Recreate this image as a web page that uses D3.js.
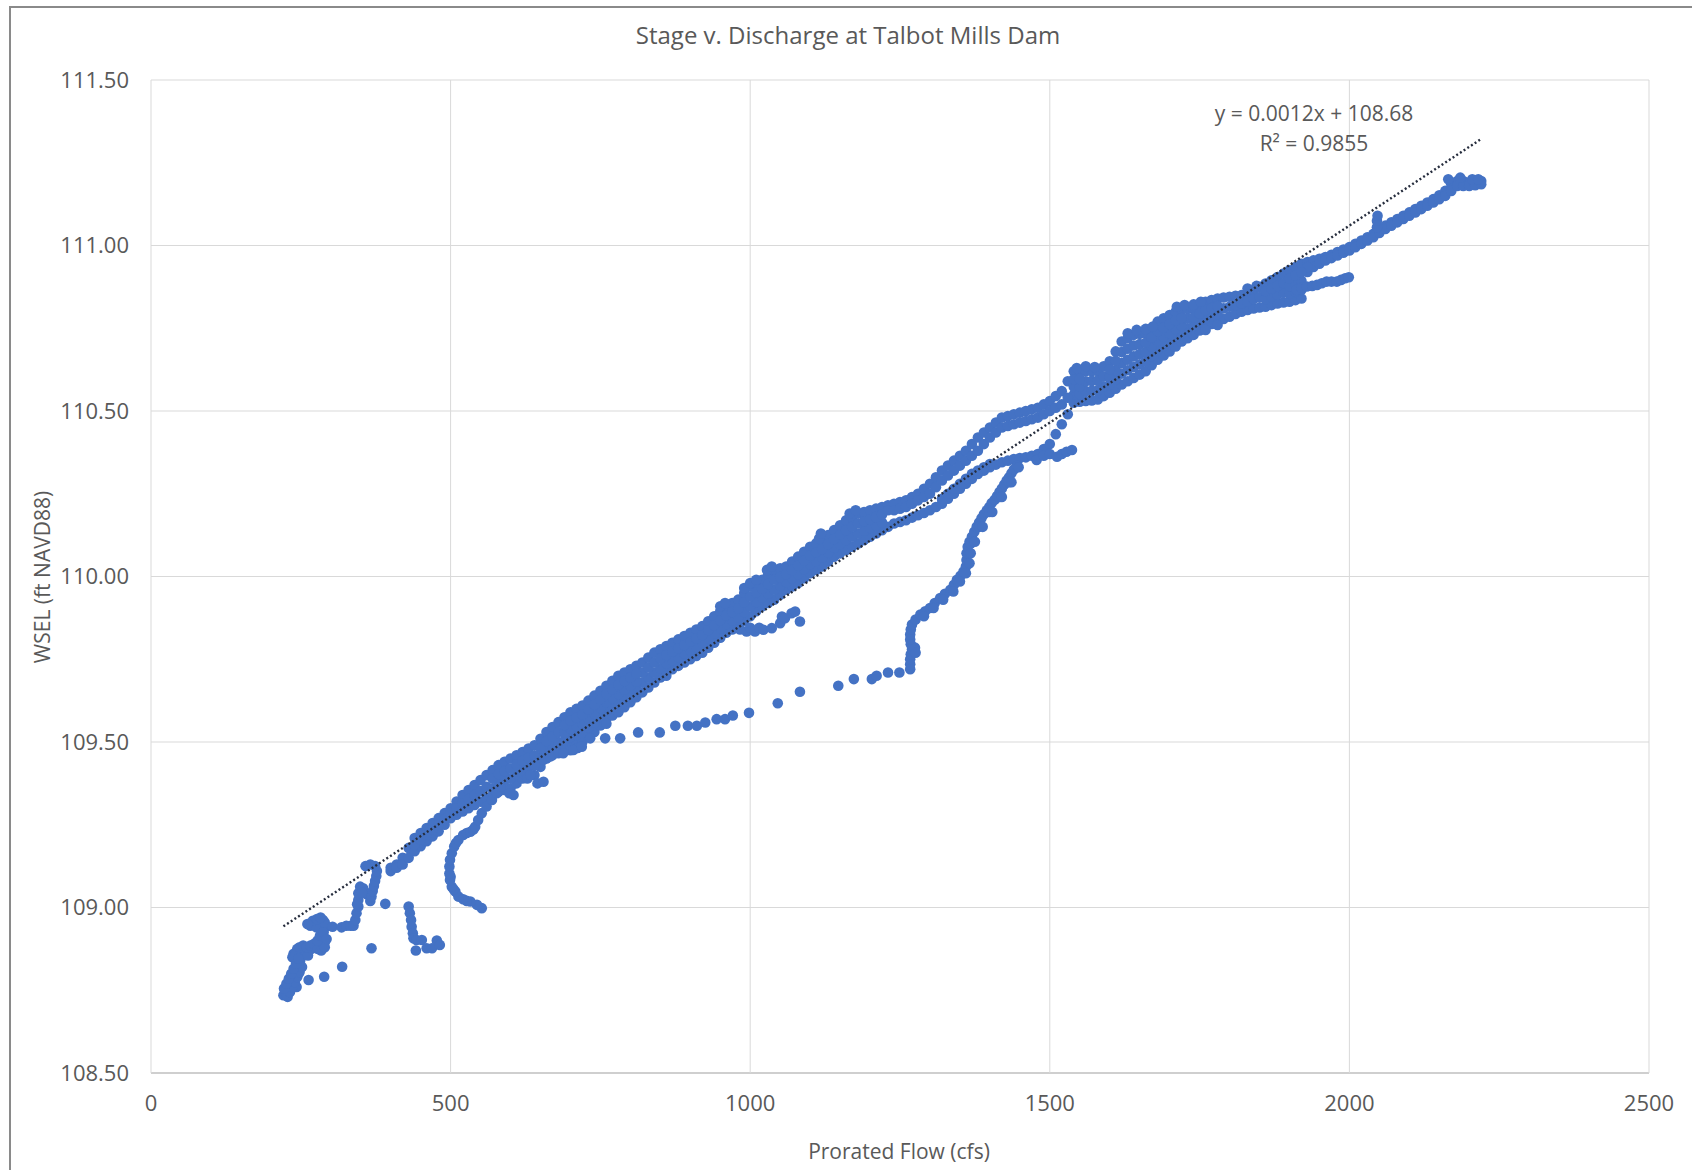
<!DOCTYPE html>
<html>
<head>
<meta charset="utf-8">
<script src="https://cdn.jsdelivr.net/npm/d3@7"></script>
<style>
  body { margin: 0; background: #fff; }
  text { font-family: "Open Sans", sans-serif; fill: #595959; }
</style>
</head>
<body>
<svg id="canvas" width="1692" height="1170"></svg>
<script>
// tick values
let xTicks = [0, 500, 1000, 1500, 2000, 2500]
let yTicks = [108.5, 109.0, 109.5, 110.0, 110.5, 111.0, 111.5]

// linear trendline (Excel)
let trendSlope = 0.00119
let trendIntercept = 108.68
let trendRange = [221, 2218]

// main band, top row of points (flow cfs, WSEL ft)
let bandHigh = [
  [400,109.12],[410,109.13],[420,109.15],[430,109.18],[440,109.21],[450,109.225],[460,109.24],[470,109.255],
  [480,109.27],[490,109.285],[500,109.30],[510,109.32],[520,109.34],[530,109.355],[540,109.37],[550,109.385],
  [560,109.40],[570,109.415],[580,109.43],[590,109.44],[600,109.45],[610,109.46],[620,109.47],[630,109.48],
  [640,109.49],[650,109.51],[660,109.53],[670,109.545],[680,109.56],[690,109.575],[700,109.59],[710,109.60],
  [720,109.61],[730,109.625],[740,109.64],[750,109.655],[760,109.67],[770,109.685],[780,109.70],[790,109.71],
  [800,109.72],[810,109.73],[820,109.74],[830,109.755],[840,109.77],[850,109.78],[860,109.79],[870,109.80],
  [880,109.81],[890,109.82],[900,109.83],[910,109.84],[920,109.85],[930,109.865],[940,109.88],[950,109.895],
  [960,109.91],[970,109.92],[980,109.93],[990,109.95],[1000,109.97],[1010,109.98],[1020,109.99],[1030,110.005],
  [1040,110.02],[1050,110.025],[1060,110.03],[1070,110.045],[1080,110.06],[1090,110.075],[1100,110.09],[1110,110.10],
  [1120,110.11],[1130,110.125],[1140,110.14],[1150,110.155],[1160,110.17],[1170,110.18],[1180,110.19],[1190,110.195],
  [1200,110.20],[1210,110.205],[1220,110.21],[1230,110.215],[1240,110.22],[1250,110.225],[1260,110.23],[1270,110.24],
  [1280,110.25],[1290,110.265],[1300,110.28],[1310,110.30],[1320,110.32],[1330,110.335],[1340,110.35],[1350,110.365],
  [1360,110.38],[1370,110.40],[1380,110.42],[1390,110.435],[1400,110.45],[1410,110.465],[1420,110.48],[1430,110.485],
  [1440,110.49],[1450,110.495],[1460,110.50],[1470,110.505],[1480,110.51],[1490,110.52],[1500,110.53],[1510,110.545],
  [1520,110.56],[1530,110.59],[1540,110.62],[1550,110.62],[1560,110.62],[1570,110.62],[1580,110.62],[1590,110.635],
  [1600,110.65],[1610,110.68],[1620,110.71],[1630,110.72],[1640,110.73],[1650,110.733],[1660,110.735],[1670,110.75],
  [1680,110.77],[1690,110.78],[1700,110.79],[1710,110.80],[1720,110.805],[1730,110.808],[1740,110.81],[1750,110.82],
  [1760,110.83],[1770,110.835],[1780,110.84],[1790,110.843],[1800,110.845],[1810,110.848],[1820,110.85],[1830,110.858],
  [1840,110.865],[1850,110.875],[1860,110.885],[1870,110.895],[1880,110.905],[1890,110.915],[1900,110.925],[1910,110.935],
  [1920,110.945],[1930,110.95],[1940,110.955],[1950,110.96],[1960,110.965],[1970,110.972],[1980,110.98],[1990,110.988],
  [2000,110.995],[2010,111.005],[2020,111.015],[2030,111.025],[2040,111.035],[2050,111.048],[2060,111.06],[2070,111.07],
  [2080,111.08],[2090,111.09],[2100,111.10],[2110,111.11],[2120,111.12],[2130,111.13],[2140,111.14],[2150,111.152],
  [2160,111.165],[2170,111.185],[2180,111.195],[2190,111.195],[2200,111.19],[2210,111.19],[2220,111.195]
]

// main band, bottom row (lower loop branch between 1230 and 1530)
let bandLow = [
  [400,109.11],[410,109.12],[420,109.13],[430,109.15],[440,109.17],[450,109.185],[460,109.20],[470,109.215],
  [480,109.23],[490,109.25],[500,109.27],[510,109.28],[520,109.29],[530,109.30],[540,109.31],[550,109.32],
  [560,109.33],[570,109.34],[580,109.35],[590,109.355],[600,109.36],[610,109.375],[620,109.39],[630,109.395],
  [640,109.40],[650,109.425],[660,109.45],[670,109.46],[680,109.47],[690,109.48],[700,109.49],[710,109.495],
  [720,109.50],[730,109.515],[740,109.53],[750,109.55],[760,109.57],[770,109.58],[780,109.59],[790,109.605],
  [800,109.62],[810,109.635],[820,109.65],[830,109.665],[840,109.68],[850,109.695],[860,109.71],[870,109.72],
  [880,109.73],[890,109.74],[900,109.75],[910,109.76],[920,109.77],[930,109.785],[940,109.80],[950,109.815],
  [960,109.83],[970,109.84],[980,109.85],[990,109.865],[1000,109.88],[1010,109.895],[1020,109.91],[1030,109.92],
  [1040,109.93],[1050,109.945],[1060,109.96],[1070,109.97],[1080,109.98],[1090,109.995],[1100,110.01],[1110,110.02],
  [1120,110.03],[1130,110.045],[1140,110.06],[1150,110.07],[1160,110.08],[1170,110.09],[1180,110.10],[1190,110.11],
  [1200,110.12],[1210,110.13],[1220,110.14],[1230,110.15],[1240,110.16],[1250,110.165],[1260,110.17],[1270,110.178],
  [1280,110.185],[1290,110.192],[1300,110.20],[1310,110.21],[1320,110.22],[1330,110.235],[1340,110.25],[1350,110.265],
  [1360,110.28],[1370,110.295],[1380,110.31],[1390,110.32],[1400,110.33],[1410,110.338],[1420,110.345],[1430,110.35],
  [1440,110.355],[1450,110.358],[1460,110.36],[1470,110.365],[1480,110.37],[1490,110.385],[1500,110.40],[1510,110.43],
  [1520,110.46],[1530,110.49],[1540,110.525],[1550,110.528],[1560,110.53],[1570,110.532],[1580,110.535],[1590,110.545],
  [1600,110.555],[1610,110.567],[1620,110.58],[1630,110.59],[1640,110.60],[1650,110.61],[1660,110.62],[1670,110.638],
  [1680,110.655],[1690,110.668],[1700,110.68],[1710,110.695],[1720,110.71],[1730,110.72],[1740,110.73],[1750,110.743],
  [1760,110.755],[1770,110.763],[1780,110.77],[1790,110.778],[1800,110.785],[1810,110.793],[1820,110.80],[1830,110.805],
  [1840,110.81],[1850,110.813],[1860,110.815],[1870,110.82],[1880,110.825],[1890,110.828],[1900,110.83],[1910,110.835],
  [1920,110.84],[1930,110.92],[1940,110.935],[1950,110.945],[1960,110.955],[1970,110.962],[1980,110.97],[1990,110.978],
  [2000,110.985],[2010,110.995],[2020,111.005],[2030,111.015],[2040,111.025],[2050,111.038],[2060,111.05],[2070,111.06],
  [2080,111.07],[2090,111.08],[2100,111.09],[2110,111.10],[2120,111.11],[2130,111.12],[2140,111.13],[2150,111.14],
  [2160,111.15],[2170,111.165],[2180,111.18],[2190,111.18],[2200,111.18],[2210,111.182],[2220,111.185]
]

// inner rows of the band, lowest first
let bandRowA = [
  [440,109.19],[450,109.205],[460,109.22],[470,109.235],[480,109.25],[490,109.267],
  [500,109.285],[510,109.30],[520,109.315],[530,109.328],[540,109.34],[550,109.352],[560,109.365],[570,109.36],
  [580,109.377],[590,109.383],[600,109.39],[610,109.403],[620,109.417],[630,109.423],[640,109.43],[650,109.453],
  [660,109.477],[670,109.488],[680,109.50],[690,109.504],[700,109.515],[710,109.521],[720,109.528],[730,109.543],
  [740,109.558],[750,109.576],[760,109.595],[770,109.606],[780,109.618],[790,109.631],[800,109.645],[810,109.659],
  [820,109.68],[830,109.695],[840,109.71],[850,109.723],[860,109.737],[870,109.747],[880,109.757],[890,109.767],
  [900,109.777],[910,109.787],[920,109.797],[930,109.812],[940,109.827],[950,109.842],[960,109.857],[970,109.867],
  [980,109.877],[990,109.893],[1000,109.91],[1010,109.923],[1020,109.937],[1030,109.948],[1040,109.96],[1050,109.972],
  [1060,109.983],[1070,109.995],[1080,110.007],[1090,110.022],[1100,110.037],[1110,110.047],[1120,110.057],[1130,110.072],
  [1140,110.087],[1150,110.098],[1160,110.11],[1170,110.12],[1180,110.13],[1190,110.138],[1200,110.147],[1210,110.155],
  [1220,110.163],
  [1540,110.549],[1550,110.551],[1560,110.56],[1570,110.561],[1580,110.563],[1590,110.575],[1600,110.579],[1610,110.595],
  [1620,110.613],[1630,110.623],[1640,110.633],[1650,110.641],[1660,110.649],[1670,110.666],[1680,110.684],[1690,110.696],
  [1700,110.708],[1710,110.721],[1720,110.734],[1730,110.749],[1740,110.757],[1750,110.769],[1760,110.78],[1770,110.787],
  [1780,110.793],[1790,110.81],[1800,110.815],[1810,110.82],[1820,110.825],[1830,110.83],[1840,110.838],[1850,110.844],
  [1860,110.838],[1870,110.845],[1880,110.852],[1890,110.857],[1900,110.854],[1910,110.86],[1920,110.866],[1930,110.935]
]
let bandRowB = [
  [570,109.39],[580,109.403],[590,109.412],[600,109.42],[610,109.432],[620,109.443],[630,109.452],[640,109.46],
  [650,109.482],[660,109.503],[670,109.517],[680,109.53],[690,109.528],[700,109.54],[710,109.548],[720,109.555],
  [730,109.57],[740,109.585],[750,109.603],[760,109.62],[770,109.633],[780,109.645],[790,109.658],[800,109.67],
  [810,109.683],[820,109.71],[830,109.725],[840,109.74],[850,109.752],[860,109.763],[870,109.773],[880,109.783],
  [890,109.793],[900,109.803],[910,109.813],[920,109.823],[930,109.838],[940,109.853],[950,109.868],[960,109.883],
  [970,109.893],[980,109.903],[990,109.922],[1000,109.94],[1010,109.952],[1020,109.963],[1030,109.977],[1040,109.99],
  [1050,109.998],[1060,110.007],[1070,110.02],[1080,110.033],[1090,110.048],[1100,110.063],[1110,110.073],[1115,110.115],
  [1118,110.13],[1120,110.083],[1130,110.098],[1140,110.113],[1150,110.127],[1160,110.14],[1170,110.15],[1180,110.16],
  [1190,110.167],[1200,110.173],[1210,110.18],[1220,110.187],
  [1540,110.573],[1550,110.574],[1560,110.59],[1570,110.591],[1580,110.592],[1590,110.605],[1600,110.603],[1610,110.624],
  [1620,110.645],[1630,110.655],[1640,110.665],[1650,110.672],[1660,110.678],[1670,110.694],[1680,110.713],[1690,110.724],
  [1700,110.735],[1710,110.748],[1720,110.758],[1730,110.779],[1740,110.783],[1750,110.794],[1760,110.805],[1770,110.811],
  [1780,110.817],[1860,110.862],[1870,110.87],[1880,110.878],[1890,110.886],[1900,110.878],[1910,110.885],[1920,110.893],
  [2046,111.055],[2046,111.075],[2047,111.09]
]
let bandRowC = [
  [690,109.551],[700,109.565],[710,109.574],[720,109.583],[730,109.598],[740,109.613],[750,109.629],[760,109.645],
  [770,109.659],[780,109.673],[790,109.684],[800,109.695],[810,109.706],
  [1540,110.596],[1550,110.597],[1600,110.626],[1610,110.652],[1620,110.678],[1630,110.688],[1640,110.698],[1650,110.702],
  [1660,110.706],[1670,110.722],[1680,110.741],[1690,110.752],[1700,110.763],[1710,110.774],[1720,110.781],
  [1900,110.901],[1910,110.91],[1920,110.919]
]
// bumps sticking out of the band edges
let bandBumps = [
  [950,109.91],[958,109.92],[990,109.965],[1000,109.98],[1010,109.99],[1028,110.02],[1036,110.03],[1166,110.19],
  [1176,110.2],[1545,110.63],[1560,110.635],[1575,110.633],[1630,110.735],[1645,110.745],[1660,110.748],[1672,110.755],
  [1712,110.815],[1725,110.82],[1740,110.822],[1752,110.83],[1830,110.87],[1845,110.878],[1760,110.745],[1780,110.76],
  [2165,111.2],[2185,111.205],[2205,111.2],[2215,111.2],[700,109.475],[712,109.482],[760,109.555],[860,109.7]
]
// second rows of the two branches of the 1250-1530 loop
let upperBranch = [
  [1230,110.20],[1240,110.20],[1250,110.205],[1260,110.21],[1270,110.22],[1280,110.23],[1290,110.24],[1300,110.25],
  [1310,110.27],[1320,110.29],[1330,110.305],[1340,110.32],[1350,110.335],[1360,110.35],[1370,110.365],[1380,110.38],
  [1390,110.40],[1400,110.42],[1410,110.435],[1420,110.45],[1430,110.455],[1440,110.46],[1450,110.465],[1460,110.47],
  [1470,110.475],[1480,110.48],[1490,110.49],[1500,110.50],[1510,110.51],[1520,110.52],[1530,110.54]
]
let lowerBranch = [
  [1320,110.235],[1330,110.25],[1340,110.265],[1350,110.28],[1360,110.295],[1370,110.31],[1380,110.32],[1390,110.33],
  [1400,110.34]
]

// low-flow cluster and small loops
let lowCluster = [
  [221,108.735],[225,108.75],[229,108.765],[233,108.78],[237,108.795],[241,108.81],[245,108.825],[249,108.84],
  [226,108.735],[230,108.75],[234,108.765],[238,108.78],[243,108.76],[246,108.80],[238,108.86],[244,108.875],
  [250,108.87],[256,108.865],[262,108.87],[268,108.875],[274,108.88],[280,108.885],[285,108.89],[290,108.895],
  [247,108.855],[262,108.855],[285,108.905],[287,108.92],[285,108.935],[283,108.95],[287,108.962],[280,108.962],
  [273,108.955],[266,108.945],[291,108.94],[276,108.94],[236,108.85],[242,108.86],[248,108.88],[254,108.885],
  [260,108.88],[266,108.885],[272,108.89],[278,108.875],[284,108.87],[290,108.88],[278,108.90],[282,108.915],
  [288,108.925],[290,108.955],[270,108.96],[277,108.965],[283,108.97],[261,108.95],[293,108.905],
  [228,108.73],[232,108.745],[236,108.76],[240,108.775],[244,108.79],[248,108.805],[252,108.82],
  [222,108.755],[226,108.77],[230,108.785],[234,108.80],[238,108.815],[242,108.83],[246,108.845]
]
let strays = [[263,108.781],[289,108.791],[319,108.821],[368,108.877],[303,108.942],[391,109.011]]
let loopA = [
  [318,108.94],[326,108.945],[333,108.945],[338,108.945],[341,108.962],[343,108.983],[346,109.003],[346,109.023],
  [346,109.043],[349,109.063],[354,109.058],[360,109.04],[366,109.02],[368,109.033],[370,109.05],[372,109.065],
  [374,109.08],[376,109.095],[377,109.11],[374,109.125],[366,109.13],[358,109.125],[352,109.045],[344,109.01]
]
let hookLow = [
  [430,109.003],[432,108.983],[434,108.962],[435,108.942],[437,108.922],[438,108.907],[443,108.902],[452,108.902],
  [442,108.870],[460,108.877],[469,108.877],[477,108.900],[482,108.887]
]
let hookBranch = [
  [552,108.998],[544,109.008],[533,109.018],[527,109.02],[521,109.025],[513,109.033],[508,109.048],[505,109.055],
  [502,109.063],[500,109.093],[499,109.083],[498,109.103],[498,109.124],[499,109.144],[502,109.164],[506,109.184],
  [509,109.195],[513,109.204],[521,109.219],[527,109.225],[533,109.229],[538,109.236],[541,109.244],[546,109.264],
  [552,109.285],[560,109.305],[569,109.325],[577,109.345],[583,109.365],[598,109.345],[605,109.34],[628,109.39],
  [633,109.40],[645,109.375],[655,109.38]
]
// small branch near 1000 cfs
let sideBranch = [
  [983,109.84],[994,109.834],[1000,109.845],[1008,109.834],[1015,109.845],[1022,109.839],[1036,109.844],[1050,109.859],
  [1053,109.879],[1058,109.874],[1069,109.889],[1075,109.894],[1083,109.864]
]
// sparse low branch
let lowDots = [
  [655,109.446],[666,109.456],[680,109.466],[688,109.466],[705,109.476],[719,109.486],[733,109.511],[758,109.511],
  [783,109.511],[813,109.529],[849,109.529],[875,109.549],[896,109.549],[911,109.549],[925,109.559],[944,109.569],
  [958,109.569],[971,109.58],[998,109.588],[1046,109.617],[1083,109.652],[1147,109.67],[1173,109.69],[1203,109.69],
  [1211,109.70],[1230,109.71],[1249,109.71],[1267,109.72]
]
// steep rise from 1267 cfs
let riseBranch = [
  [1267,109.735],[1267,109.75],[1268,109.765],[1270,109.78],[1275,109.785],[1276,109.77],[1268,109.795],[1267,109.81],
  [1267,109.825],[1268,109.84],[1270,109.855],[1276,109.87],[1284,109.885],[1292,109.895],[1300,109.905],[1308,109.92],
  [1317,109.935],[1325,109.948],[1334,109.96],[1340,109.975],[1345,109.99],[1351,110.002],[1356,110.015],[1360,110.03],
  [1361,110.05],[1361,110.07],[1363,110.09],[1366,110.105],[1370,110.12],[1374,110.135],[1378,110.15],[1382,110.163],
  [1386,110.176],[1390,110.188],[1395,110.20],[1399,110.21],[1403,110.222],[1408,110.232],[1412,110.243],[1416,110.255],
  [1420,110.266],[1424,110.278],[1428,110.29],[1432,110.30],[1436,110.312],[1440,110.323],[1445,110.335],
  [1368,110.10],[1382,110.15],[1399,110.195],[1416,110.24],[1432,110.285],
  [1290,109.88],[1306,109.905],[1322,109.93],[1339,109.955],[1350,109.985],[1360,110.01],[1366,110.04],[1368,110.07],
  [1375,110.105],[1388,110.15],[1404,110.195],[1420,110.24],[1436,110.285],[1448,110.33]
]
let lobe1500 = [[1478,110.352],[1490,110.365],[1500,110.37],[1512,110.362],[1520,110.37],[1528,110.377],[1537,110.382]]
let branch2000 = [
  [1912,110.866],[1920,110.872],[1929,110.876],[1938,110.878],[1946,110.881],[1954,110.886],[1962,110.891],[1970,110.891],
  [1979,110.891],[1986,110.896],[1993,110.901],[1999,110.904]
]

let allPoints = [].concat(bandHigh, bandLow, bandRowA, bandRowB, bandRowC, bandBumps, upperBranch, lowerBranch,
  lowCluster, strays, loopA, hookLow, hookBranch, sideBranch, lowDots, riseBranch, lobe1500, branch2000)

let svg = d3.select('#canvas')

let xScale = d3.scaleLinear().domain([0, 2500]).range([151, 1649])
let yScale = d3.scaleLinear().domain([108.5, 111.5]).range([1073, 80])

// chart frame
svg.append('rect')
  .attr('x', 10).attr('y', 7)
  .attr('width', 1700).attr('height', 1200)
  .attr('fill', '#fff')
  .attr('stroke', '#8a8a8a')
  .attr('stroke-width', 2)

// gridlines
svg.append('g')
  .selectAll('line')
  .data(yTicks)
  .enter()
  .append('line')
  .attr('x1', xScale(0)).attr('x2', xScale(2500))
  .attr('y1', (d) => yScale(d)).attr('y2', (d) => yScale(d))
  .attr('stroke', (d) => d === 108.5 ? '#bfbfbf' : '#d9d9d9')
  .attr('stroke-width', (d) => d === 108.5 ? 1.5 : 1)

svg.append('g')
  .selectAll('line')
  .data(xTicks)
  .enter()
  .append('line')
  .attr('x1', (d) => xScale(d)).attr('x2', (d) => xScale(d))
  .attr('y1', yScale(111.5)).attr('y2', yScale(108.5))
  .attr('stroke', '#d9d9d9')
  .attr('stroke-width', 1)

// tick labels
svg.append('g')
  .selectAll('text')
  .data(yTicks)
  .enter()
  .append('text')
  .attr('x', 129)
  .attr('y', (d) => yScale(d))
  .attr('dy', '0.35em')
  .attr('text-anchor', 'end')
  .style('font-size', '22px')
  .text((d) => d3.format('.2f')(d))

svg.append('g')
  .selectAll('text')
  .data(xTicks)
  .enter()
  .append('text')
  .attr('x', (d) => xScale(d))
  .attr('y', 1111)
  .attr('text-anchor', 'middle')
  .style('font-size', '22px')
  .text((d) => d)

// points
svg.append('g')
  .selectAll('circle')
  .data(allPoints)
  .enter()
  .append('circle')
  .attr('cx', (d) => xScale(d[0]))
  .attr('cy', (d) => yScale(d[1]))
  .attr('r', 5.3)
  .attr('fill', '#4472c4')

// trendline
let trendLine = d3.line()
  .x((d) => xScale(d))
  .y((d) => yScale(trendSlope * d + trendIntercept))

svg.append('path')
  .datum(trendRange)
  .attr('d', trendLine)
  .attr('fill', 'none')
  .attr('stroke', '#262d3d')
  .attr('stroke-width', 2.4)
  .attr('stroke-dasharray', '2 2.4')

// titles
svg.append('text')
  .attr('x', 848).attr('y', 44)
  .attr('text-anchor', 'middle')
  .style('font-size', '24px')
  .text('Stage v. Discharge at Talbot Mills Dam')

svg.append('text')
  .attr('x', 899).attr('y', 1159)
  .attr('text-anchor', 'middle')
  .style('font-size', '21px')
  .text('Prorated Flow (cfs)')

svg.append('text')
  .attr('transform', 'translate(50,577) rotate(-90)')
  .attr('text-anchor', 'middle')
  .style('font-size', '21px')
  .text('WSEL (ft NAVD88)')

svg.append('text')
  .attr('x', 1314).attr('y', 121)
  .attr('text-anchor', 'middle')
  .style('font-size', '21px')
  .text('y = 0.0012x + 108.68')

svg.append('text')
  .attr('x', 1314).attr('y', 151)
  .attr('text-anchor', 'middle')
  .style('font-size', '21px')
  .text('R² = 0.9855')
</script>
</body>
</html>
